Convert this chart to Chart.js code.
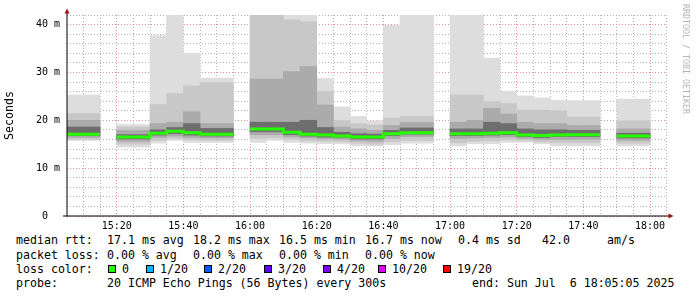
<!DOCTYPE html>
<html>
<head>
<meta charset="utf-8">
<script src="https://cdn.jsdelivr.net/npm/chart.js@4"></script>
<style>
  body { margin: 0; background: #fff; width: 697px; height: 297px; overflow: hidden; position: relative;
         font-family: 'DejaVu Sans Mono', monospace; }
  #wrap { position: absolute; left: 0; top: 0; width: 697px; height: 232px; }
  .t { position: absolute; font-size: 11.6px; line-height: 14px; white-space: pre; color: #000; }
  .box { position: absolute; width: 6px; height: 6px; border: 1px solid #000; }
  #credit { position: absolute; left: 681px; top: 4px; writing-mode: vertical-rl; font-size: 8.3px;
            line-height: 10px; color: #b4b4b4; white-space: pre; }
</style>
</head>
<body>
<div id="wrap"><canvas id="smoke"></canvas></div>
<div id="credit">RRDTOOL / TOBI OETIKER</div>
<div id="legend"></div>

<script>
// 5 minute steps, start of each step
const stepTimes = ['15:05','15:10','15:15','15:20','15:25','15:30','15:35','15:40','15:45','15:50','15:55',
  '16:00','16:05','16:10','16:15','16:20','16:25','16:30','16:35','16:40','16:45','16:50','16:55',
  '17:00','17:05','17:10','17:15','17:20','17:25','17:30','17:35','17:40','17:45','17:50','17:55','18:00'];

// median rtt in ms (null = no data)
const medianRtt = [17.1,17.1,null,16.5,16.5,17.3,17.7,17.4,17.1,17.1,null,18.2,18.2,17.5,17.1,16.9,16.7,16.5,16.5,
  17.2,17.4,17.4,null,17.2,17.2,17.3,17.4,16.9,16.8,16.9,17.0,17.0,null,16.7,16.7,null];

// smoke: spread of the 20 pings in each step (ms)
const smokeMax = [25.3,25.3,null,19.1,19.1,37.7,46,34.0,28.8,28.8,null,48,48,46,45,28.7,22.8,20.8,19.9,
  39.9,46,46,null,46,46,33.0,26.1,25.1,24.7,24.2,24.1,24.1,null,24.4,24.4,null];
const smokeP95 = [21.4,21.4,null,18.6,18.6,23.3,25.6,27.2,27.9,27.9,null,44,44,41.0,40.6,26.0,20.0,19.3,19.0,
  20.4,20.8,20.8,null,25.3,25.3,23.9,23.5,22.1,22.1,22.0,20.7,20.7,null,19.9,19.9,null];
const smokeP80 = [20.0,20.0,null,17.9,17.9,19.3,19.6,21.8,19.3,19.3,null,28.6,28.6,30.2,31.2,23.2,18.6,18.2,17.9,
  18.9,19.6,19.6,null,19.6,20.0,22.5,21.3,19.6,19.3,19.3,18.9,18.9,null,18.2,18.2,null];
const smokeP60 = [18.6,18.6,null,17.0,17.0,18.0,18.5,19.3,18.3,18.3,null,19.6,19.6,19.6,20.0,18.5,17.5,17.2,17.1,
  17.9,18.4,18.4,null,18.2,18.2,19.6,19.3,18.2,18.0,18.0,17.9,17.9,null,17.3,17.3,null];
const smokeP40 = [16.8,16.8,null,16.1,16.1,16.9,17.2,16.9,16.7,16.7,null,17.6,17.6,17.0,16.7,16.5,16.4,16.1,16.1,
  16.8,17.1,17.1,null,16.8,16.8,16.9,17.0,16.6,16.4,16.6,16.6,16.6,null,16.3,16.3,null];
const smokeP20 = [16.4,16.4,null,15.6,15.6,16.4,16.7,16.4,16.3,16.3,null,17.0,17.0,16.5,16.3,16.1,16.0,15.7,15.6,
  16.2,16.6,16.6,null,16.2,16.3,16.4,16.5,16.2,16.0,16.0,16.0,16.0,null,15.8,15.8,null];
const smokeP5 = [16.0,16.0,null,15.0,15.0,15.8,16.2,15.9,15.8,15.8,null,16.2,16.3,16.0,15.7,15.6,15.5,15.2,15.0,
  15.5,15.8,15.8,null,15.3,15.6,15.7,15.9,15.8,15.5,15.3,15.3,15.3,null,15.2,15.2,null];
const smokeMin = [15.8,15.8,null,14.4,14.4,15.2,15.8,15.4,15.4,15.4,null,15.4,15.8,15.4,15.2,15.1,15.1,14.7,14.6,
  14.9,15.2,15.2,null,14.7,15.1,15.1,15.4,15.4,15.1,14.7,14.7,14.7,null,14.7,14.7,null];

const xTickLabels = ['15:20','15:40','16:00','16:20','16:40','17:00','17:20','17:40','18:00'];
const yTickLabels = ['0','10 m','20 m','30 m','40 m'];

const lossLabels = ['0','1/20','2/20','3/20','4/20','10/20','19/20'];
const lossColors = ['#26ff00','#00b8ff','#0059ff','#5e00ff','#7e00ff','#dd00ff','#ff0000'];

// minutes after 15:00
function toMinutes(t) {
  const p = t.split(':').map(Number);
  return (p[0] - 15) * 60 + p[1] + (p[2] || 0) / 60;
}

const axisStart = toMinutes('15:05:05');
const axisEnd = toMinutes('18:05:05');

// floating bars for one smoke band
function band(lo, hi) {
  const pts = [];
  stepTimes.forEach((t, i) => {
    if (lo[i] === null) return;
    pts.push({ x: toMinutes(t) + 2.5, y: [lo[i], hi[i]] });
  });
  return pts;
}

// median as flat segments per step
function medianLine() {
  const pts = [];
  stepTimes.forEach((t, i) => {
    const s = toMinutes(t);
    if (medianRtt[i] === null) {
      pts.push({ x: s + 2.5, y: null });
    } else {
      pts.push({ x: s, y: medianRtt[i] }, { x: s + 5, y: medianRtt[i] });
    }
  });
  return pts;
}

function smokeSet(lo, hi, color, order) {
  return {
    type: 'bar',
    data: band(lo, hi),
    backgroundColor: color,
    borderWidth: 0,
    grouped: false,
    barPercentage: 1,
    categoryPercentage: 1,
    order: order
  };
}

// axis lines with the little rrdtool arrows
const axisArrows = {
  id: 'axisArrows',
  afterDraw(chart) {
    const { ctx, chartArea: a } = chart;
    ctx.save();
    ctx.strokeStyle = '#000';
    ctx.lineWidth = 1;
    ctx.beginPath();
    ctx.moveTo(a.left, a.bottom + 0.5);
    ctx.lineTo(a.left, a.top - 3);
    ctx.moveTo(a.left - 4, a.bottom);
    ctx.lineTo(a.right + 2, a.bottom);
    ctx.stroke();
    ctx.fillStyle = '#a01010';
    ctx.beginPath();
    ctx.moveTo(a.left - 2.5, a.top - 1.5);
    ctx.lineTo(a.left + 2.5, a.top - 1.5);
    ctx.lineTo(a.left, a.top - 6.5);
    ctx.closePath();
    ctx.fill();
    ctx.beginPath();
    ctx.moveTo(a.right + 1.5, a.bottom - 2.5);
    ctx.lineTo(a.right + 1.5, a.bottom + 2.5);
    ctx.lineTo(a.right + 6.5, a.bottom);
    ctx.closePath();
    ctx.fill();
    ctx.restore();
  }
};

const minorGrid = 'rgba(170,170,170,0.9)';
const majorGrid = 'rgba(225,130,130,0.9)';
const tickFont = { family: 'DejaVu Sans Mono', size: 10 };

const xTicks = [];
for (let m = 10; m <= 185; m += 5) xTicks.push(m);
const yTicks = [];
for (let v = 0; v <= 42; v += 2) yTicks.push(v);

new Chart(document.getElementById('smoke'), {
  data: {
    datasets: [
      {
        type: 'line',
        data: medianLine(),
        borderColor: lossColors[0],
        borderWidth: 3,
        pointRadius: 0,
        borderCapStyle: 'butt',
        spanGaps: false,
        order: 0
      },
      smokeSet(smokeP40, smokeP60, '#6e6e6e', 1),
      smokeSet(smokeP20, smokeP80, '#ababab', 2),
      smokeSet(smokeP5, smokeP95, '#c8c8c8', 3),
      smokeSet(smokeMin, smokeMax, '#dddddd', 4)
    ]
  },
  options: {
    responsive: true,
    maintainAspectRatio: false,
    animation: false,
    layout: { padding: { top: 15, right: 30, left: 0, bottom: 0 } },
    plugins: { legend: { display: false }, tooltip: { enabled: false } },
    scales: {
      x: {
        type: 'linear',
        min: axisStart,
        max: axisEnd,
        offset: false,
        z: 1,
        afterBuildTicks: axis => { axis.ticks = xTicks.map(v => ({ value: v })); },
        afterFit: scale => { scale.height = 16; },
        grid: {
          offset: false,
          drawTicks: false,
          color: ctx => (ctx.tick && ctx.tick.value % 20 === 0) ? majorGrid : minorGrid
        },
        border: { display: false, dash: [1, 2] },
        ticks: {
          autoSkip: false,
          maxRotation: 0,
          padding: 4,
          color: '#000',
          font: tickFont,
          callback: v => v % 20 === 0 ? xTickLabels[v / 20 - 1] : ''
        }
      },
      y: {
        type: 'linear',
        min: 0,
        max: 42,
        z: 1,
        afterBuildTicks: axis => { axis.ticks = yTicks.map(v => ({ value: v })); },
        afterFit: scale => { scale.width = 67; },
        grid: {
          drawTicks: false,
          color: ctx => (ctx.tick && ctx.tick.value % 10 === 0) ? majorGrid : minorGrid
        },
        border: { display: false, dash: [1, 2] },
        title: {
          display: true,
          text: 'Seconds',
          color: '#000',
          font: { family: 'DejaVu Sans Mono', size: 11.6 },
          padding: { top: 3.5, bottom: 0 }
        },
        ticks: {
          autoSkip: false,
          padding: 7,
          color: '#000',
          font: tickFont,
          callback: v => v % 10 === 0 ? yTickLabels[v / 10].padEnd(3) : ''
        }
      }
    }
  },
  plugins: [axisArrows]
});

// text block under the graph
const legend = document.getElementById('legend');
function put(text, left, top) {
  const s = document.createElement('span');
  s.className = 't';
  s.textContent = text;
  s.style.left = left + 'px';
  s.style.top = top + 'px';
  legend.appendChild(s);
}

put('median rtt:', 16, 233);
put('17.1 ms avg', 107, 233);
put('18.2 ms max', 193, 233);
put('16.5 ms min', 279, 233);
put('16.7 ms now', 365, 233);
put('0.4 ms sd', 458, 233);
put('42.0', 542, 233);
put('am/s', 607, 233);

put('packet loss:', 16, 247.5);
put('0.00 % avg', 107, 247.5);
put('0.00 % max', 193, 247.5);
put('0.00 % min', 279, 247.5);
put('0.00 % now', 365, 247.5);

put('loss color:', 16, 261.5);
const boxLefts = [108, 146, 204, 264, 323, 378, 443];
lossLabels.forEach((lab, i) => {
  const b = document.createElement('span');
  b.className = 'box';
  b.style.left = boxLefts[i] + 'px';
  b.style.top = '265px';
  b.style.background = lossColors[i];
  legend.appendChild(b);
  put(lab, boxLefts[i] + 14, 261.5);
});

put('probe:', 16, 276);
put('20 ICMP Echo Pings (56 Bytes) every 300s', 107, 276);
put('end: Sun Jul  6 18:05:05 2025', 472, 276);
</script>
</body>
</html>
